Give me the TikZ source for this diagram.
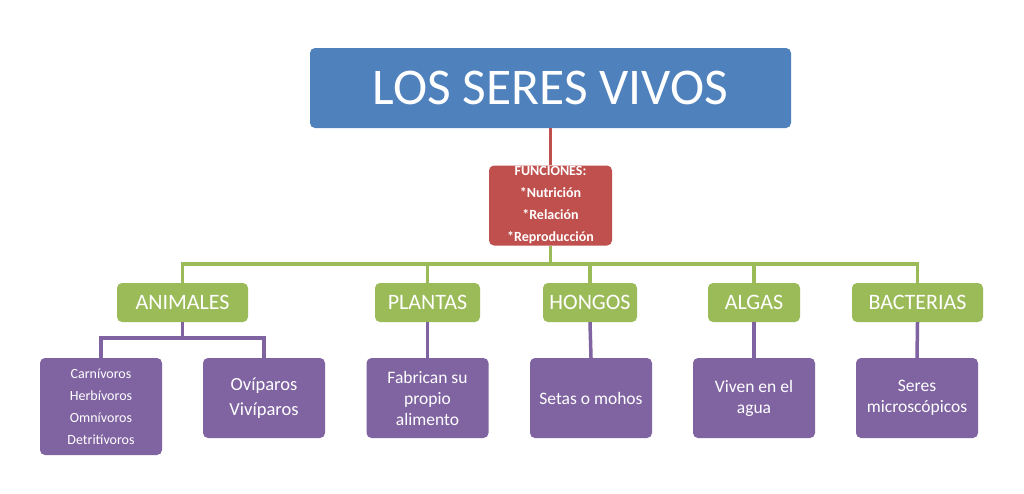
\documentclass[tikz,border=0pt]{standalone}
\usepackage{fontspec}
\setmainfont{Carlito}
\definecolor{cblue}{HTML}{4F81BD}
\definecolor{cred}{HTML}{C0504D}
\definecolor{cgreen}{HTML}{9BBB59}
\definecolor{cpurple}{HTML}{8064A2}
\begin{document}
\begin{tikzpicture}[x=1pt,y=-1pt,
  box/.style={rounded corners=5pt, inner sep=0pt, text=white, align=center},
  titlebox/.style={box, fill=cblue, minimum width=481pt, minimum height=80pt, font=\fontsize{51.5}{60}\selectfont},
  redbox/.style={box, fill=cred, minimum width=123pt, minimum height=80pt, font=\bfseries\fontsize{14}{22}\selectfont},
  greenbox/.style={box, fill=cgreen, minimum height=39pt, font=\fontsize{22}{24}\selectfont},
  purplebox/.style={box, fill=cpurple, minimum width=122pt, minimum height=80pt, font=\fontsize{17.5}{21}\selectfont},
  rline/.style={cred, line width=3pt},
  gline/.style={cgreen, line width=3.5pt},
  pline/.style={cpurple, line width=3.5pt}
]
\useasboundingbox (0,0) rectangle (1024,493);
\fill[white] (0,0) rectangle (1024,493);

\node[titlebox] (title) at (550.5,88) {LOS SERES VIVOS};
\node[redbox] (fun) at (550.5,205.5) {FUNCIONES:\\*Nutrición\\*Relación\\*Reproducción};

\node[greenbox, minimum width=131pt] (animales) at (182.5,302.5) {ANIMALES};
\node[greenbox, minimum width=105pt] (plantas) at (427.5,302.5) {PLANTAS};
\node[greenbox, minimum width=94pt] (hongos) at (590,302.5) {HONGOS};
\node[greenbox, minimum width=92pt] (algas) at (754,302.5) {ALGAS};
\node[greenbox, minimum width=131pt] (bacterias) at (917.5,302.5) {BACTERIAS};

\node[purplebox, minimum height=97pt, font=\fontsize{14}{22}\selectfont] (carn) at (101,406.5) {Carnívoros\\Herbívoros\\Omnívoros\\Detritívoros};
\node[purplebox, font=\fontsize{18.5}{25}\selectfont] (ovi) at (264,398) {Ovíparos\\Vivíparos};
\node[purplebox] (fab) at (427.5,398) {Fabrican su\\propio\\alimento};
\node[purplebox] (setas) at (591,398) {Setas o mohos};
\node[purplebox] (viven) at (754,398) {Viven en el\\agua};
\node[purplebox] (seres) at (917,398) {Seres\\microscópicos};

\coordinate (bus) at (550.5,264);
\coordinate (abus) at (182.5,338);

\draw[rline] (title.south) -- (fun.north);
\draw[gline] (fun.south) -- (bus);
\foreach \n in {animales,plantas,hongos,algas,bacterias}
  \draw[gline] (bus) -| (\n.north);

\draw[pline] (animales.south) -- (abus);
\draw[pline] (abus) -| (carn.north);
\draw[pline] (abus) -| (ovi.north);
\draw[pline] (plantas.south) -- (fab.north);
\draw[pline] (hongos.south) -- (setas.north);
\draw[pline] (algas.south) -- (viven.north);
\draw[pline] (bacterias.south) -- (seres.north);
\end{tikzpicture}
\end{document}
